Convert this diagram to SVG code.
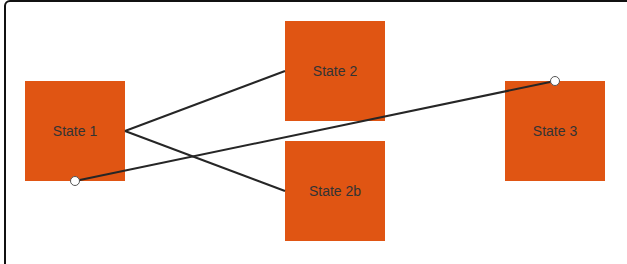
<svg xmlns="http://www.w3.org/2000/svg" width="627" height="264" viewBox="0 0 627 264">
<style>
.node rect{fill:#E05513;}
.node text{font-family:"Liberation Sans",Arial,sans-serif;font-size:14px;fill:#333333;text-anchor:middle;dominant-baseline:central;}
.conn line{stroke:#262626;stroke-width:2;}
.ep{fill:#ffffff;stroke:#555555;stroke-width:1;}
</style>
<rect x="5" y="1" width="640" height="280" rx="5" ry="5" fill="#ffffff" stroke="#111111" stroke-width="2"/>
<g id="state1" class="node"><rect x="25" y="81" width="100" height="100"/><text x="75" y="131">State 1</text></g>
<g id="state2" class="node"><rect x="285" y="21" width="100" height="100"/><text x="335" y="71">State 2</text></g>
<g id="state2b" class="node"><rect x="285" y="141" width="100" height="100"/><text x="335" y="191">State 2b</text></g>
<g id="state3" class="node"><rect x="505" y="81" width="100" height="100"/><text x="555" y="131">State 3</text></g>
<g id="connectors" class="conn">
<line x1="125" y1="131" x2="285" y2="71"/>
<line x1="125" y1="131" x2="285" y2="191"/>
<line x1="75" y1="181" x2="555" y2="81"/>
<circle class="ep" cx="75" cy="181" r="4.5"/>
<circle class="ep" cx="555" cy="81" r="4.5"/>
</g>
</svg>
